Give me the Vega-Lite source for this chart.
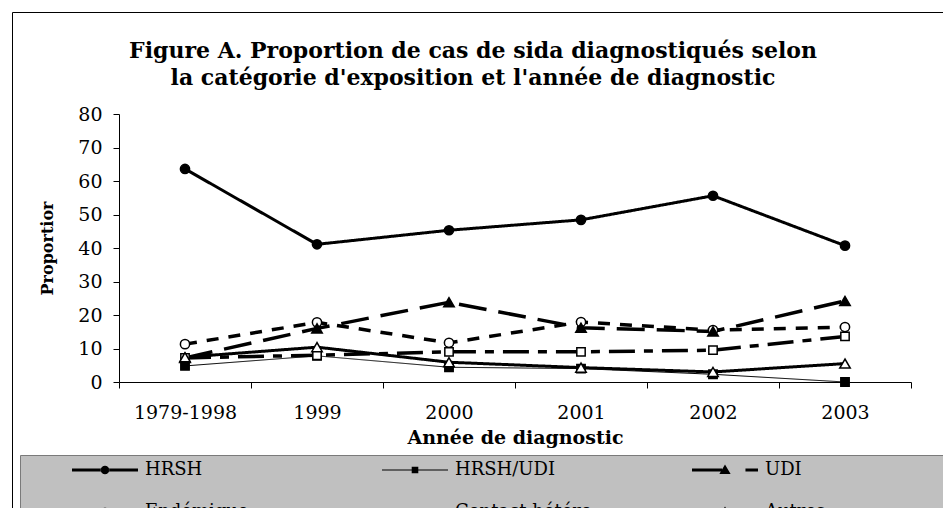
{
  "$schema": "https://vega.github.io/schema/vega-lite/v6.json",
  "width": 792,
  "height": 268,
  "autosize": {"type": "none"},
  "padding": {"left": 119, "top": 114, "right": 32, "bottom": 126},
  "background": "white",
  "config": {"view": {"stroke": null}, "font": "DejaVu Serif"},
  "title": {
    "text": ["Figure A. Proportion de cas de sida diagnostiqués selon", "la catégorie d'exposition et l'année de diagnostic"],
    "font": "DejaVu Serif", "fontSize": 22, "fontWeight": "bold", "color": "black",
    "anchor": "middle", "frame": "group", "dx": -42, "dy": 92, "offset": 14, "lineHeight": 27
  },
  "data": {"values": [
    {"annee": "1979-1998", "serie": "HRSH", "valeur": 63.6},
    {"annee": "1999", "serie": "HRSH", "valeur": 41.1},
    {"annee": "2000", "serie": "HRSH", "valeur": 45.3},
    {"annee": "2001", "serie": "HRSH", "valeur": 48.4},
    {"annee": "2002", "serie": "HRSH", "valeur": 55.6},
    {"annee": "2003", "serie": "HRSH", "valeur": 40.7},
    {"annee": "1979-1998", "serie": "HRSH/UDI", "valeur": 4.8},
    {"annee": "1999", "serie": "HRSH/UDI", "valeur": 7.8},
    {"annee": "2000", "serie": "HRSH/UDI", "valeur": 4.4},
    {"annee": "2001", "serie": "HRSH/UDI", "valeur": 4.0},
    {"annee": "2002", "serie": "HRSH/UDI", "valeur": 2.3},
    {"annee": "2003", "serie": "HRSH/UDI", "valeur": 0},
    {"annee": "1979-1998", "serie": "UDI", "valeur": 7.2},
    {"annee": "1999", "serie": "UDI", "valeur": 16.0},
    {"annee": "2000", "serie": "UDI", "valeur": 23.8},
    {"annee": "2001", "serie": "UDI", "valeur": 16.2},
    {"annee": "2002", "serie": "UDI", "valeur": 15.1},
    {"annee": "2003", "serie": "UDI", "valeur": 24.2},
    {"annee": "1979-1998", "serie": "Endémique", "valeur": 11.3},
    {"annee": "1999", "serie": "Endémique", "valeur": 17.8},
    {"annee": "2000", "serie": "Endémique", "valeur": 11.7},
    {"annee": "2001", "serie": "Endémique", "valeur": 17.9},
    {"annee": "2002", "serie": "Endémique", "valeur": 15.5},
    {"annee": "2003", "serie": "Endémique", "valeur": 16.4},
    {"annee": "1979-1998", "serie": "Contact hétéro", "valeur": 7.2},
    {"annee": "1999", "serie": "Contact hétéro", "valeur": 8.0},
    {"annee": "2000", "serie": "Contact hétéro", "valeur": 9.0},
    {"annee": "2001", "serie": "Contact hétéro", "valeur": 9.0},
    {"annee": "2002", "serie": "Contact hétéro", "valeur": 9.5},
    {"annee": "2003", "serie": "Contact hétéro", "valeur": 13.6},
    {"annee": "1979-1998", "serie": "Autres", "valeur": 7.4},
    {"annee": "1999", "serie": "Autres", "valeur": 10.4},
    {"annee": "2000", "serie": "Autres", "valeur": 5.9},
    {"annee": "2001", "serie": "Autres", "valeur": 4.3},
    {"annee": "2002", "serie": "Autres", "valeur": 3.0},
    {"annee": "2003", "serie": "Autres", "valeur": 5.5}
  ]},
  "encoding": {
    "x": {
      "field": "annee", "type": "nominal", "sort": null,
      "scale": {"domain": ["1979-1998", "1999", "2000", "2001", "2002", "2003"], "paddingInner": 0, "paddingOuter": 0},
      "axis": {
        "title": "Année de diagnostic", "titleFont": "DejaVu Serif", "titleFontSize": 19, "titleFontWeight": "bold", "titleColor": "black", "titlePadding": 6,
        "labelFont": "DejaVu Serif", "labelFontSize": 19, "labelColor": "black", "labelAngle": 0, "labelPadding": 15,
        "tickBand": "extent", "tickSize": 6, "tickColor": "black", "domainColor": "black", "grid": false
      }
    },
    "y": {
      "field": "valeur", "type": "quantitative",
      "scale": {"domain": [0, 80], "nice": false},
      "axis": {
        "title": "Proportior", "titleFont": "DejaVu Serif", "titleFontSize": 16, "titleFontWeight": "bold", "titleColor": "black", "titlePadding": 22,
        "labelFont": "DejaVu Serif", "labelFontSize": 19, "labelColor": "black", "labelPadding": 11,
        "values": [0, 10, 20, 30, 40, 50, 60, 70, 80],
        "tickSize": 6, "tickColor": "black", "domainColor": "black", "grid": false
      }
    }
  },
  "layer": [
    {
      "mark": {"type": "point", "opacity": 0},
      "encoding": {
        "fill": {
          "field": "valeur", "type": "quantitative",
          "scale": {"domain": [0, 80], "range": ["#c0c0c0", "#c0c0c0"]},
          "legend": {
            "title": null, "orient": "none", "legendX": -99, "legendY": 341, "direction": "horizontal",
            "gradientLength": 1000, "gradientThickness": 100, "gradientOpacity": 0, "gradientStrokeWidth": 0,
            "labels": false, "labelExpr": "''", "values": [0], "padding": 0, "fillColor": "#c0c0c0", "strokeColor": "#7a7a7a", "zindex": 1
          }
        },
        "stroke": {
          "field": "valeur", "type": "quantitative",
          "scale": {"domain": [0, 100], "range": ["white", "white"]},
          "legend": {
            "title": null, "orient": "none", "legendX": -107, "legendY": -102, "direction": "horizontal",
            "gradientLength": 1000, "gradientThickness": 600, "gradientOpacity": 0, "gradientStrokeWidth": 0,
            "labels": false, "labelExpr": "''", "values": [0], "padding": 0, "strokeColor": "black", "zindex": 0
          }
        }
      }
    },
    {
      "mark": {"type": "point", "filled": true, "color": "black", "opacity": 0},
      "encoding": {
        "shape": {
          "field": "serie", "type": "nominal",
          "scale": {
            "domain": ["HRSH", "HRSH/UDI", "UDI", "Endémique", "Contact hétéro", "Autres"],
            "range": [
              "M-1,-0.045H-0.12V0.045H-1ZM0.12,-0.045H1V0.045H0.12ZM-0.13,0A0.13,0.13 0 1,0 0.13,0A0.13,0.13 0 1,0 -0.13,0Z",
              "M-1,-0.016H-0.1V0.016H-1ZM0.1,-0.016H1V0.016H0.1ZM-0.1,-0.1H0.1V0.1H-0.1Z",
              "M-1,-0.045H-0.09V0.045H-1ZM0.62,-0.045H1V0.045H0.62ZM0,-0.17L0.17,0.12L-0.17,0.12Z",
              "M-1,-0.045H-0.72V0.045H-1ZM0.72,-0.045H1V0.045H0.72ZM-0.13,0A0.13,0.13 0 1,0 0.13,0A0.13,0.13 0 1,0 -0.13,0ZM-0.088,0A0.088,0.088 0 1,1 0.088,0A0.088,0.088 0 1,1 -0.088,0Z",
              "M-1,-0.045H-0.11V0.045H-1ZM0.4,-0.045H0.65V0.045H0.4ZM-0.11,-0.11H0.11V0.11H-0.11ZM-0.07,-0.07V0.07H0.07V-0.07Z",
              "M-1,-0.045H-0.1V0.045H-1ZM0.1,-0.045H1V0.045H0.1ZM0,-0.17L0.17,0.12L-0.17,0.12ZM0,-0.09L-0.095,0.075L0.095,0.075Z"
            ]
          },
          "legend": {
            "title": null, "orient": "none", "legendX": -47, "legendY": 323, "columns": 3, "direction": "horizontal", "gridAlign": "all",
            "symbolSize": 4356, "symbolOpacity": 1, "symbolFillColor": "black", "symbolStrokeColor": "black", "symbolStrokeWidth": 0,
            "labelFont": "DejaVu Serif", "labelFontSize": 18, "labelColor": "black", "labelOffset": 7,
            "columnPadding": 100, "rowPadding": -15, "padding": 0, "zindex": 3,
            "encode": {"labels": {"font": {"value": "DejaVu Serif"}, "fontSize": {"value": 18}, "fill": {"value": "black"}}}
          }
        }
      }
    },
    {
      "mark": {"type": "line", "color": "black"},
      "encoding": {
        "detail": {"field": "serie", "type": "nominal"},
        "strokeDash": {
          "field": "serie", "type": "nominal",
          "scale": {"domain": ["Autres", "Contact hétéro", "Endémique", "UDI", "HRSH/UDI", "HRSH"],
                    "range": [[1, 0], [26, 9, 9, 9], [12, 10], [28, 12], [1, 0], [1, 0]]},
          "legend": null
        },
        "strokeWidth": {
          "field": "serie", "type": "nominal",
          "scale": {"type": "ordinal", "domain": ["Autres", "Contact hétéro", "Endémique", "UDI", "HRSH/UDI", "HRSH"],
                    "range": [3, 3.5, 3.5, 3.5, 1, 3]},
          "legend": null
        }
      }
    },
    {
      "transform": [{"filter": {"field": "serie", "oneOf": ["HRSH", "Endémique"]}}],
      "mark": {"type": "point", "filled": true, "shape": "circle", "size": 85, "stroke": "black", "strokeWidth": 1.5, "opacity": 1},
      "encoding": {
        "color": {
          "field": "serie", "type": "nominal",
          "scale": {"domain": ["Autres", "Contact hétéro", "Endémique", "UDI", "HRSH/UDI", "HRSH"],
                    "range": ["white", "white", "white", "black", "black", "black"]},
          "legend": null
        }
      }
    },
    {
      "transform": [{"filter": {"field": "serie", "oneOf": ["HRSH/UDI", "Contact hétéro"]}}],
      "mark": {"type": "point", "filled": true, "shape": "square", "size": 70, "stroke": "black", "strokeWidth": 1.5, "opacity": 1},
      "encoding": {
        "color": {
          "field": "serie", "type": "nominal",
          "scale": {"domain": ["Autres", "Contact hétéro", "Endémique", "UDI", "HRSH/UDI", "HRSH"],
                    "range": ["white", "white", "white", "black", "black", "black"]},
          "legend": null
        }
      }
    },
    {
      "transform": [{"filter": {"field": "serie", "oneOf": ["UDI", "Autres"]}}],
      "mark": {"type": "point", "filled": true, "shape": "triangle-up", "size": 110, "stroke": "black", "strokeWidth": 1.5, "opacity": 1},
      "encoding": {
        "color": {
          "field": "serie", "type": "nominal",
          "scale": {"domain": ["Autres", "Contact hétéro", "Endémique", "UDI", "HRSH/UDI", "HRSH"],
                    "range": ["white", "white", "white", "black", "black", "black"]},
          "legend": null
        }
      }
    }
  ]
}
